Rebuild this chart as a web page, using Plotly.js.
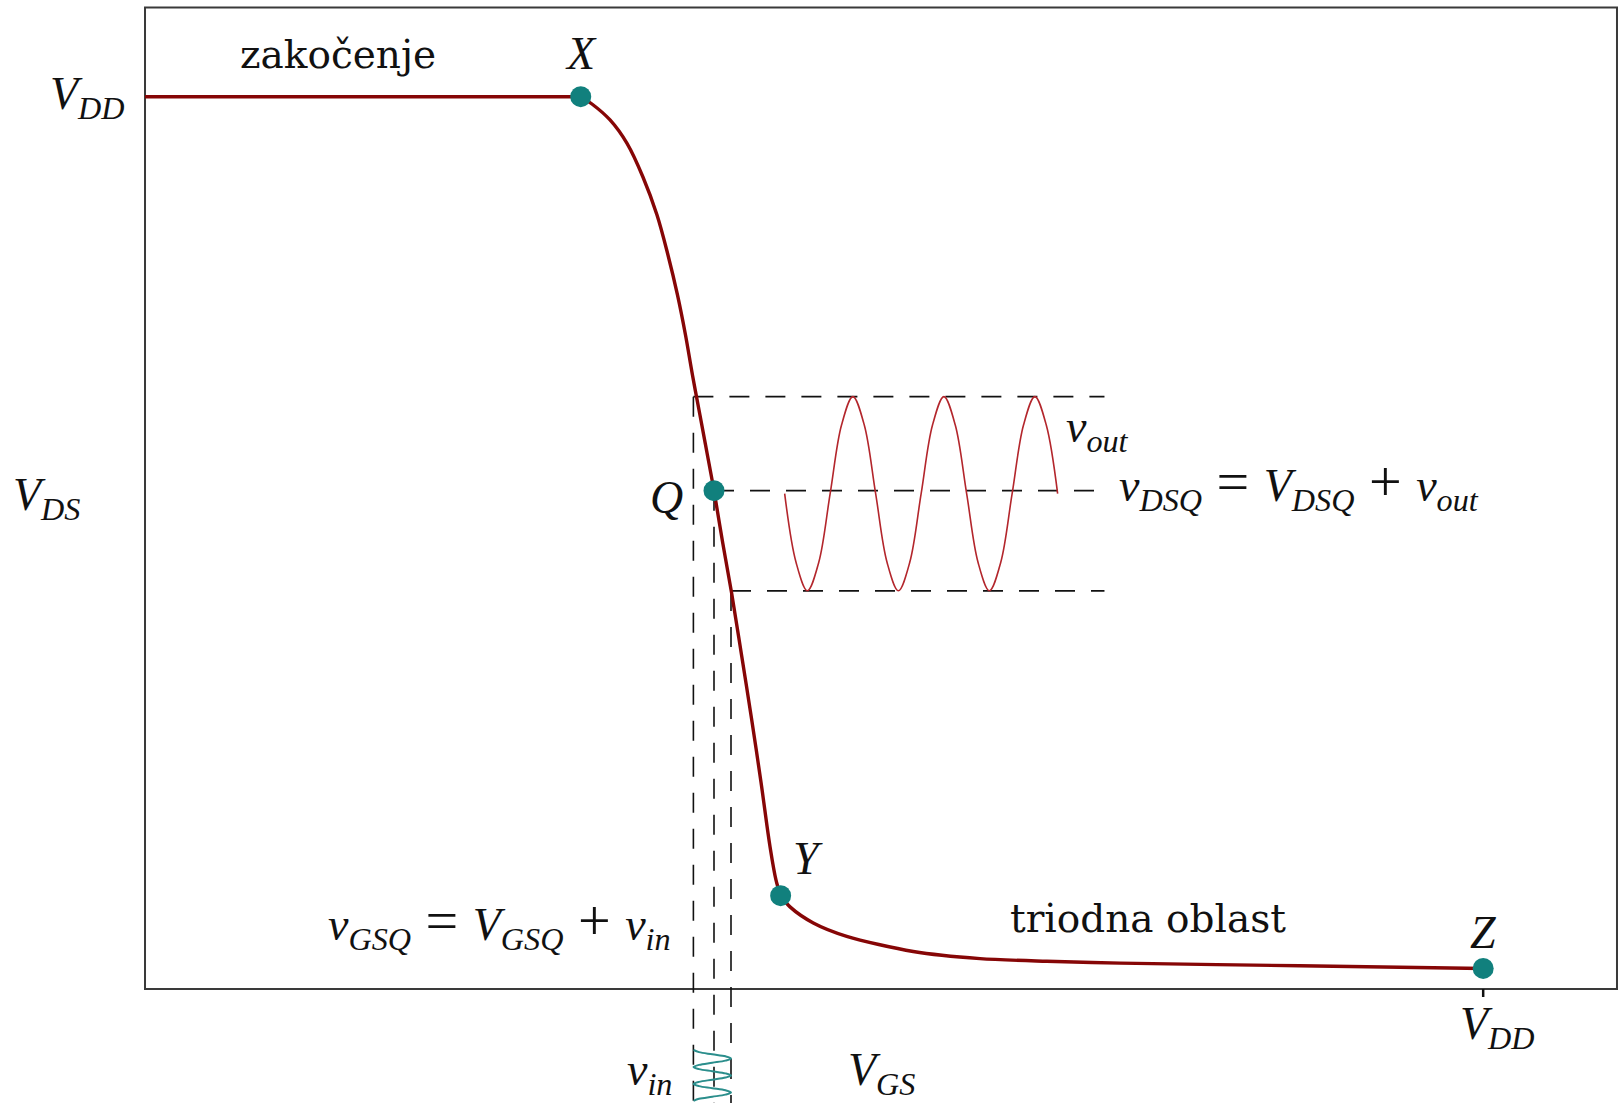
<!DOCTYPE html>
<html>
<head>
<meta charset="utf-8">
<script src="https://cdn.plot.ly/plotly-3.0.1.min.js"></script>
<style>
  html, body { margin: 0; padding: 0; background: #ffffff; }
  #chart { width: 1619px; height: 1103px; }
</style>
</head>
<body>
<div id="chart"></div>
<script>
// NMOS common-source transfer characteristic V_DS(V_GS), voltages in units of V_DD
const VDD = 1;

// cut-off region (zakočenje): V_DS stays at V_DD
const vgsCutoff = [0, 0.3256];
const vdsCutoff = [1, 1];

// saturation region X -> Q -> Y
const vgsSat = [0.3256, 0.3340, 0.3475, 0.3602, 0.3721, 0.3826, 0.3908, 0.3979, 0.4039, 0.4091,
                0.4147, 0.4200, 0.4252, 0.4316, 0.4384, 0.4459, 0.4534, 0.4603, 0.4671, 0.4715, 0.4750];
const vdsSat = [1.000, 0.9918, 0.9739, 0.9476, 0.9100, 0.8674, 0.8226, 0.7778, 0.7329, 0.6881,
                0.6433, 0.6007, 0.5585, 0.5010, 0.4435, 0.3732, 0.3015, 0.2320, 0.1591, 0.1222, 0.1046];

// triode region Y -> Z
const vgsTriode = [0.4750, 0.4820, 0.4994, 0.5244, 0.5741, 0.6240, 0.6738, 0.7286, 0.8630, 1.0000];
const vdsTriode = [0.1046, 0.092, 0.074, 0.059, 0.042, 0.034, 0.031, 0.029, 0.026, 0.023];

// labelled operating points
const pointNames = ['X', 'Q', 'Y', 'Z'];
const pointVgs = [0.3256, 0.4252, 0.4750, 1.0000];
const pointVds = [1.000, 0.5585, 0.1046, 0.023];

// output swing: upper level, quiescent level, lower level
const swingVds = [0.6638, 0.5585, 0.4461];
const swingEndVgs = [0.717, 0.710, 0.717];
// input swing: left edge, quiescent V_GSQ, right edge
const swingVgs = [0.4098, 0.4252, 0.4379];
const lowestVds = -0.128;

// output signal v_out drawn around V_DSQ
const voutVgs = [0.4780, 0.4865, 0.4950, 0.5035, 0.5120, 0.5205, 0.5290, 0.5375, 0.5460,
                 0.5545, 0.5630, 0.5715, 0.5800, 0.5885, 0.5970, 0.6055, 0.6140,
                 0.6225, 0.6310, 0.6395, 0.6480, 0.6565, 0.6650, 0.6735, 0.6820];
const voutVds = [0.5551, 0.4782, 0.4463, 0.4782, 0.5551, 0.6320, 0.6639, 0.6320, 0.5551,
                 0.4782, 0.4463, 0.4782, 0.5551, 0.6320, 0.6639, 0.6320, 0.5551,
                 0.4782, 0.4463, 0.4782, 0.5551, 0.6320, 0.6639, 0.6320, 0.5551];

// input signal v_in drawn below the V_GS axis around V_GSQ
const vinVgs = [0.4099, 0.4140, 0.4239, 0.4338, 0.4379, 0.4338, 0.4239, 0.4140, 0.4099,
                0.4140, 0.4239, 0.4338, 0.4379, 0.4338, 0.4239, 0.4140, 0.4099,
                0.4140, 0.4239, 0.4338, 0.4379, 0.4338, 0.4239, 0.4140, 0.4099];
const vinVds = [-0.0684, -0.0708, -0.0732, -0.0755, -0.0779, -0.0803, -0.0827, -0.0851, -0.0874,
                -0.0898, -0.0922, -0.0946, -0.0970, -0.0993, -0.1017, -0.1041, -0.1065,
                -0.1089, -0.1112, -0.1136, -0.1160, -0.1184, -0.1208, -0.1231, -0.1255];

const CURVE = '#860606';
const SIGNAL_OUT = '#b3262c';
const SIGNAL_IN = '#2b8e8c';
const POINT = '#11807d';
const FRAME = '#3a3a3a';
const DASH = '20px,16px';

const TEXT_FONT = { family: 'DejaVu Serif', size: 39, color: '#111111' };
const MATH_FONT = { family: 'Liberation Serif', size: 46, color: '#111111' };

const traces = [];

// guide lines for the swings
for (let i = 0; i < 3; i++) {
  traces.push({
    x: [swingVgs[i], swingEndVgs[i]], y: [swingVds[i], swingVds[i]],
    mode: 'lines', hoverinfo: 'skip', showlegend: false,
    line: { color: '#111111', width: 1.6, dash: DASH }
  });
  traces.push({
    x: [swingVgs[i], swingVgs[i]], y: [swingVds[i], lowestVds],
    mode: 'lines', hoverinfo: 'skip', showlegend: false,
    line: { color: '#111111', width: 1.6, dash: DASH }
  });
}

// transfer characteristic
traces.push({ x: vgsCutoff, y: vdsCutoff, mode: 'lines', showlegend: false,
  line: { color: CURVE, width: 3.4 } });
traces.push({ x: vgsSat, y: vdsSat, mode: 'lines', showlegend: false,
  line: { color: CURVE, width: 3.4, shape: 'spline', smoothing: 1 } });
traces.push({ x: vgsTriode, y: vdsTriode, mode: 'lines', showlegend: false,
  line: { color: CURVE, width: 3.4, shape: 'spline', smoothing: 0.8 } });

// small-signal waveforms
traces.push({ x: voutVgs, y: voutVds, mode: 'lines', showlegend: false,
  line: { color: SIGNAL_OUT, width: 1.6, shape: 'spline', smoothing: 1 } });
traces.push({ x: vinVgs, y: vinVds, mode: 'lines', showlegend: false,
  line: { color: SIGNAL_IN, width: 2, shape: 'spline', smoothing: 1 } });

// operating points
traces.push({ x: pointVgs, y: pointVds, text: pointNames, mode: 'markers', showlegend: false,
  cliponaxis: false, marker: { color: POINT, size: 21 } });

const math = (t) => Object.assign({ showarrow: false, xref: 'x', yref: 'y', font: MATH_FONT }, t);
const plain = (t) => Object.assign({ showarrow: false, xref: 'x', yref: 'y', font: TEXT_FONT }, t);
const op = (s) => '<span style="font-size:58px"> ' + s + ' </span>';

const annotations = [
  plain({ x: 0.144, y: 1.047, text: 'zakočenje' }),
  plain({ x: 0.7494, y: 0.0785, text: 'triodna oblast' }),
  math({ x: pointVgs[0], y: 1.048, text: '<i>X</i>' }),
  math({ x: 0.3894, y: 0.5506, text: '<i>Q</i>' }),
  math({ x: 0.4958, y: 0.1457, text: '<i>Y</i>' }),
  math({ x: pointVgs[3], y: 0.0635, text: '<i>Z</i>' }),
  math({ x: 0, y: VDD, xanchor: 'right', xshift: -18, text: '<i>V<sub>DD</sub></i>' }),
  math({ x: 0, y: 0.55, xanchor: 'right', xshift: -63, text: '<i>V<sub>DS</sub></i>' }),
  math({ x: VDD, y: -0.043, xshift: 14, text: '<i>V<sub>DD</sub></i>' }),
  math({ x: 0.55, y: -0.094, text: '<i>V<sub>GS</sub></i>' }),
  math({ x: 0.3955, y: -0.094, xanchor: 'right', text: '<i>v<sub>in</sub></i>' }),
  math({ x: 0.6864, y: 0.6265, xanchor: 'left', text: '<i>v<sub>out</sub></i>' }),
  math({ x: 0.7264, y: 0.5665, xanchor: 'left',
         text: '<i>v<sub>DSQ</sub></i>' + op('=') + '<i>V<sub>DSQ</sub></i>' + op('+') + '<i>v<sub>out</sub></i>' }),
  math({ x: 0.3947, y: 0.0743, xanchor: 'right',
         text: '<i>v<sub>GSQ</sub></i>' + op('=') + '<i>V<sub>GSQ</sub></i>' + op('+') + '<i>v<sub>in</sub></i>' })
];

const shapes = [
  // plotting frame: V_GS and V_DS from 0 to 1.1 V_DD
  { type: 'rect', xref: 'x', yref: 'y', x0: 0, x1: 1.1, y0: 0, y1: 1.1,
    line: { color: FRAME, width: 2 }, layer: 'below' },
  // V_DD tick on the V_GS axis
  { type: 'line', xref: 'x', yref: 'y', x0: VDD, x1: VDD, y0: 0, y1: -0.009,
    line: { color: '#111111', width: 2.5 } }
];

const hidden = { showgrid: false, zeroline: false, showline: false,
                 showticklabels: false, ticks: '', fixedrange: true };

const layout = {
  width: 1619, height: 1103,
  margin: { l: 141, r: 0, t: 3, b: 0 },
  paper_bgcolor: '#ffffff', plot_bgcolor: '#ffffff',
  showlegend: false,
  xaxis: Object.assign({ range: [-0.003, 1.1015] }, hidden),
  yaxis: Object.assign({ range: [-0.1278, 1.105] }, hidden),
  annotations: annotations,
  shapes: shapes
};

Plotly.newPlot('chart', traces, layout, { staticPlot: true, displayModeBar: false });
</script>
</body>
</html>
